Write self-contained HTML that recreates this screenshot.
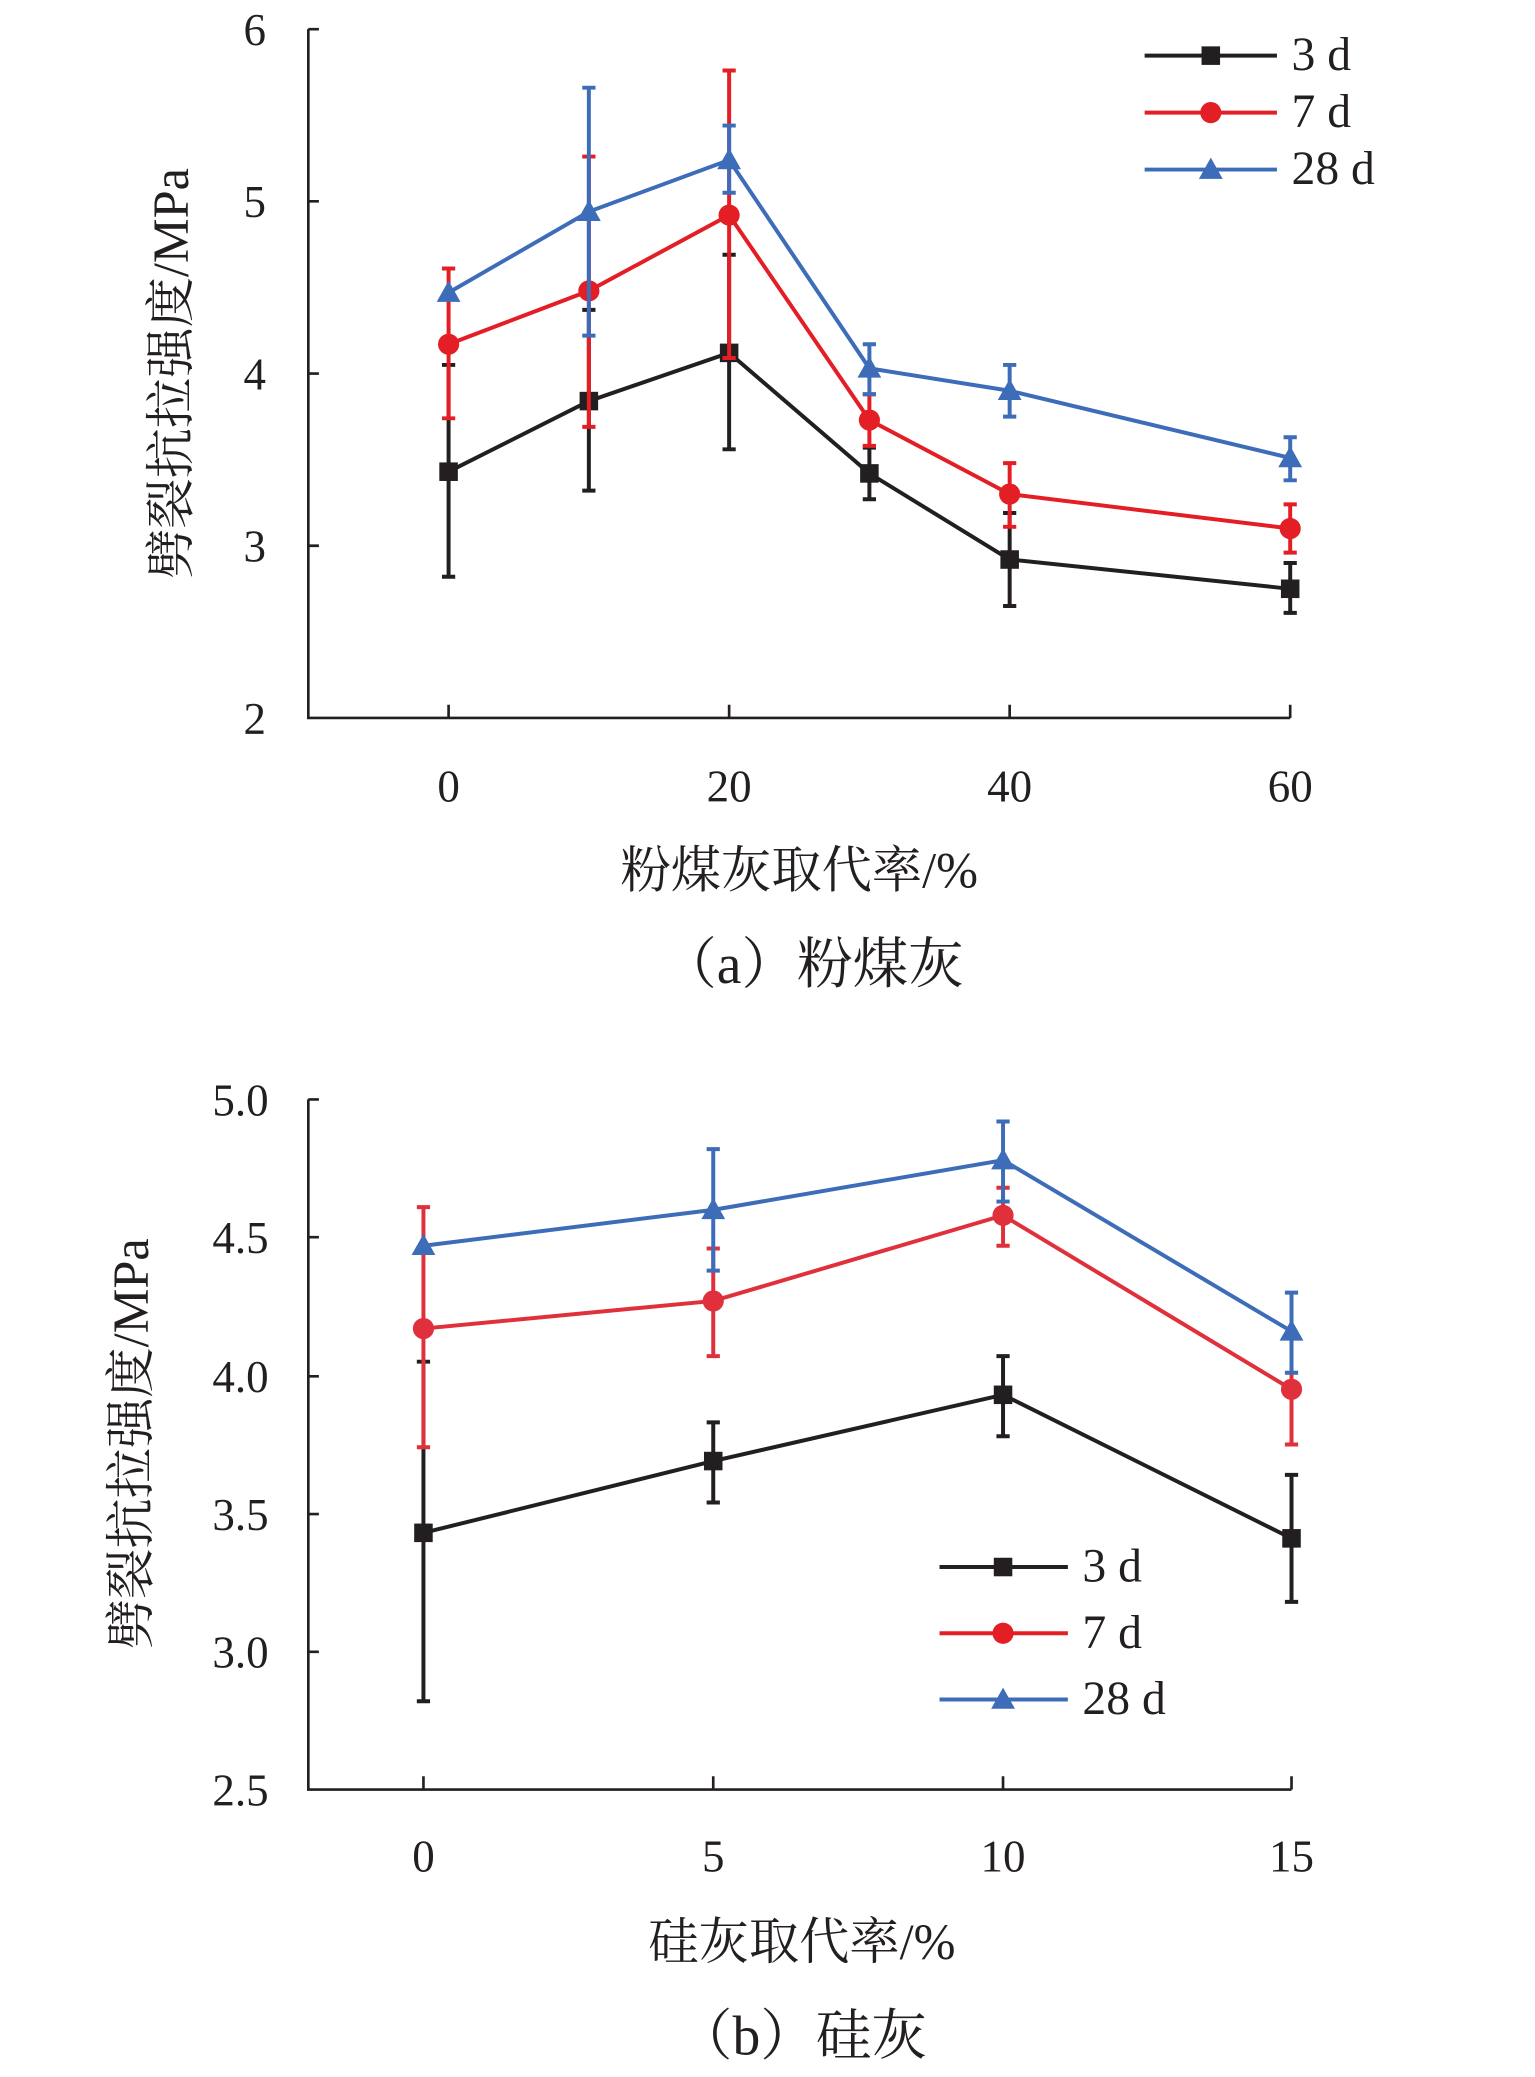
<!DOCTYPE html>
<html><head><meta charset="utf-8">
<style>
html,body{margin:0;padding:0;background:#fff;}
svg{display:block;}
text{font-family:"Liberation Serif","Noto Serif CJK SC",serif;fill:#231f20;}
</style></head>
<body>
<svg id="s" width="1535" height="2077" viewBox="0 0 1160 1568" preserveAspectRatio="none" xmlns="http://www.w3.org/2000/svg">
<g stroke="#231f20" stroke-width="2" fill="none">
<path d="M233,22 V542 H975"/>
<path d="M233,22 h8 M233,152 h8 M233,282 h8 M233,412 h8"/>
<path d="M339,542 v-10 M551,542 v-10 M763,542 v-10 M975,542 v-10"/>
<path d="M233,830 V1351 H976"/>
<path d="M233,830 h8 M233,934 h8 M233,1039 h8 M233,1143 h8 M233,1247 h8"/>
<path d="M320,1351 v-10 M539,1351 v-10 M758,1351 v-10 M976,1351 v-10"/>
</g>
<g font-size="34" text-anchor="end">
<text x="201" y="34">6</text><text x="201" y="164">5</text><text x="201" y="294">4</text><text x="201" y="424">3</text><text x="201" y="554">2</text>
<text x="203" y="842">5.0</text><text x="203" y="946">4.5</text><text x="203" y="1051">4.0</text><text x="203" y="1155">3.5</text><text x="203" y="1259">3.0</text><text x="203" y="1363">2.5</text>
</g>
<g font-size="34" text-anchor="middle">
<text x="339" y="605">0</text><text x="551" y="605">20</text><text x="763" y="605">40</text><text x="975" y="605">60</text>
<text x="320" y="1413">0</text><text x="539" y="1413">5</text><text x="758" y="1413">10</text><text x="976" y="1413">15</text>
<text x="604" y="670" font-size="38">粉煤灰取代率/%</text>
<text x="614" y="742" font-size="42">（a）粉煤灰</text>
<text x="606" y="1479" font-size="38">硅灰取代率/%</text>
<text x="606" y="1551" font-size="42">（b）硅灰</text>
<text transform="translate(142,282) rotate(-90)" font-size="38">劈裂抗拉强度/MPa</text>
<text transform="translate(112,1090) rotate(-90)" font-size="38">劈裂抗拉强度/MPa</text>
</g>
<g font-size="36">
<text x="976" y="53">3 d</text><text x="976" y="96">7 d</text><text x="976" y="139">28 d</text>
<text x="818" y="1194">3 d</text><text x="818" y="1244">7 d</text><text x="818" y="1294">28 d</text>
</g>
<g id="g"></g>
</svg>
<script>
var g=document.getElementById('g'),NS='http://www.w3.org/2000/svg';
function el(t,a){var e=document.createElementNS(NS,t);for(var k in a)e.setAttribute(k,a[k]);g.appendChild(e);}
function mk(type,x,y,c){
 if(type==0)el('rect',{x:x-7,y:y-7,width:14,height:14,fill:c});
 else if(type==1)el('circle',{cx:x,cy:y,r:8,fill:c});
 else el('path',{d:'M'+x+','+(y-9)+' L'+(x+9)+','+(y+7)+' L'+(x-9)+','+(y+7)+'Z',fill:c});
}
var C=['#231f20','#e31e24','#3d6cb9'];
function chart(xs,yf,series){
 series.forEach(function(s,i){
  var c=i==1&&s.c?s.c:C[i];
  s.v.forEach(function(v,j){var e=s.e[j];if(!e)return;var x=xs[j];
   el('path',{d:'M'+x+','+yf(e[0])+' V'+yf(e[1])+' M'+(x-5)+','+yf(e[0])+' h10 M'+(x-5)+','+yf(e[1])+' h10',stroke:c,'stroke-width':3,fill:'none'});});
  el('polyline',{points:s.v.map(function(v,j){return xs[j]+','+yf(v)}).join(' '),stroke:c,'stroke-width':3,fill:'none'});
  s.v.forEach(function(v,j){mk(i,xs[j],yf(v),c);});
 });
}
var y1=function(v){return 542-(v-2)*130};
chart([339,445,551,657,763,975],y1,[
 {v:[3.43,3.84,4.12,3.42,2.92,2.75],e:[[2.82,4.05],[3.32,4.37],[3.56,4.69],[3.27,3.57],[2.65,3.19],[2.61,2.90]]},
 {v:[4.17,4.48,4.92,3.73,3.30,3.10],e:[[3.74,4.61],[3.69,5.26],[4.09,5.76],[3.58,3.88],[3.11,3.48],[2.96,3.24]]},
 {v:[4.47,4.94,5.24,4.03,3.90,3.51],e:[null,[4.22,5.66],[5.05,5.44],[3.88,4.17],[3.75,4.05],[3.38,3.63]]}]);
var y2=function(v){return 1351-(v-2.5)*208.4};
chart([320,539,758,976],y2,[
 {v:[3.43,3.69,3.93,3.41],e:[[2.82,4.05],[3.54,3.83],[3.78,4.07],[3.18,3.64]]},
 {v:[4.17,4.27,4.58,3.95],e:[[3.74,4.61],[4.07,4.46],[4.47,4.68],[3.75,4.15]],c:'#e0303c'},
 {v:[4.47,4.60,4.78,4.16],e:[null,[4.38,4.82],[4.63,4.92],[4.01,4.30]]}]);
[[865,42],[865,85],[865,128]].forEach(function(p,i){el('path',{d:'M'+p[0]+','+p[1]+' h100',stroke:C[i],'stroke-width':3});mk(i,p[0]+50,p[1],C[i]);});
[[710,1183],[710,1233],[710,1283]].forEach(function(p,i){el('path',{d:'M'+p[0]+','+p[1]+' h97',stroke:C[i],'stroke-width':3});mk(i,p[0]+48,p[1],C[i]);});
</script>
</body></html>
